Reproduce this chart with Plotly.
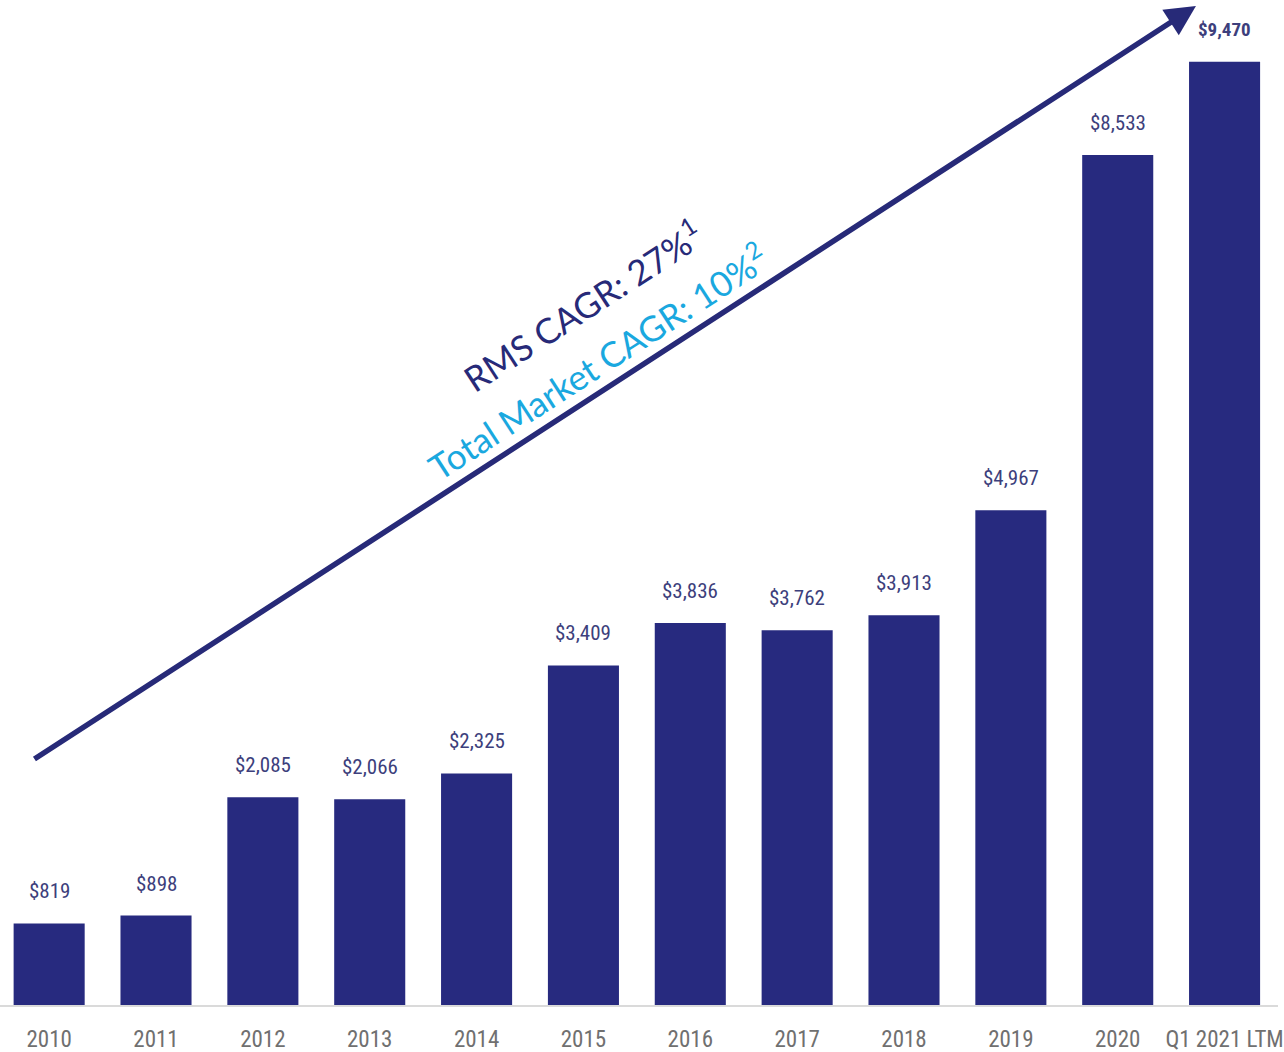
import plotly.graph_objects as go

# Annual revenue figures ($ thousands)
categories = ["2010", "2011", "2012", "2013", "2014", "2015", "2016",
              "2017", "2018", "2019", "2020", "Q1 2021 LTM"]
values = [819, 898, 2085, 2066, 2325, 3409, 3836, 3762, 3913, 4967, 8533, 9470]
value_labels = ["$819", "$898", "$2,085", "$2,066", "$2,325", "$3,409", "$3,836",
                "$3,762", "$3,913", "$4,967", "$8,533", "<b>$9,470</b>"]

BAR = "#272a7f"
NAVY = "#272a78"
CYAN = "#1aa8df"
LABEL = "#3d3f7c"
TICK = "#707070"
NARROW = "Liberation Sans Narrow, Arial Narrow, Roboto Condensed, sans-serif"

fig = go.Figure()
fig.add_trace(go.Bar(
    x=categories, y=values,
    marker=dict(color=BAR, line=dict(width=0)),
    hoverinfo="skip",
))

annotations = []
for i, (val, lab) in enumerate(zip(values, value_labels)):
    bold = lab.startswith("<b>")
    annotations.append(dict(
        x=i, y=val, xref="x", yref="y", text=lab, showarrow=False,
        xanchor="center", yanchor="middle", yshift=32,
        font=dict(family=NARROW, size=19 if bold else 21, color=LABEL),
    ))

# Growth arrow
annotations.append(dict(
    x=0.9358, y=0.994, xref="paper", yref="paper",
    ax=-1163, ay=754, axref="pixel", ayref="pixel",
    text="", showarrow=True, arrowhead=2, arrowsize=1.1, arrowwidth=5.5,
    arrowcolor=NAVY,
))
annotations.append(dict(
    x=0.4555, y=0.6965, xref="paper", yref="paper",
    xanchor="center", yanchor="middle",
    text="RMS CAGR: 27%<sup>1</sup>", showarrow=False, textangle=-33,
    font=dict(family="Lato, Open Sans, sans-serif", size=35, color=NAVY),
))
annotations.append(dict(
    x=0.467, y=0.641, xref="paper", yref="paper",
    xanchor="center", yanchor="middle",
    text="Total Market CAGR: 10%<sup>2</sup>", showarrow=False, textangle=-33,
    font=dict(family="Lato, Open Sans, sans-serif", size=35, color=CYAN),
))

fig.update_layout(
    width=1284, height=1052,
    margin=dict(l=0, r=6, t=0, b=47, autoexpand=False),
    paper_bgcolor="white", plot_bgcolor="white",
    showlegend=False,
    bargap=0.335,
    annotations=annotations,
    xaxis=dict(
        type="category", automargin=False,
        range=[-0.46, 11.5], showgrid=False, zeroline=False,
        showline=True, linecolor="#dadada", linewidth=2,
        ticks="", ticklabelstandoff=12,
        tickfont=dict(family=NARROW, size=23, color=TICK),
    ),
    yaxis=dict(range=[0, 10090], visible=False, automargin=False),
)

fig.write_html("out.html")
